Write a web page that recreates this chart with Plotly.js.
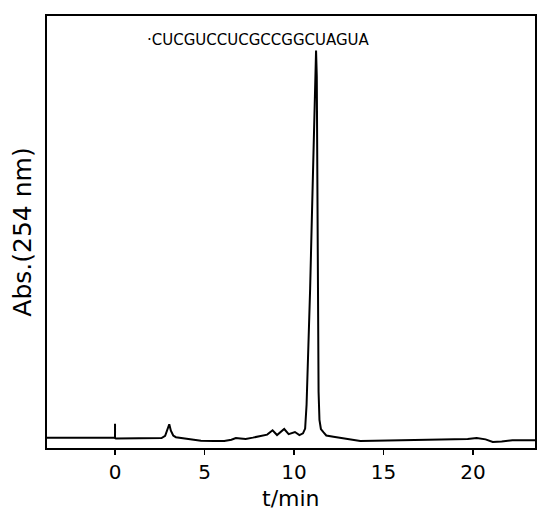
<!DOCTYPE html>
<html>
<head>
<meta charset="utf-8">
<script src="https://cdn.plot.ly/plotly-3.0.1.min.js"></script>
<style>html,body{margin:0;padding:0;background:#fff;}#chart{width:537px;height:512px;}</style>
</head>
<body>
<div id="chart"></div>
<script>
// Retention time (min) and absorbance (arbitrary units)
var timeMin = [-3.8, -2.5, -1.0, -0.05, 0, 0, 0, 0.05, 1.0, 2.0, 2.6, 2.8, 2.95, 3.03, 3.12, 3.25, 3.4, 3.8, 4.3, 4.8, 5.5, 6.1, 6.5, 6.75, 7.0, 7.3, 7.7, 8.1, 8.5, 8.8, 9.05, 9.45, 9.7, 10.05, 10.3, 10.5, 10.62, 10.7, 10.8, 10.9, 11.0, 11.1, 11.2, 11.23, 11.27, 11.3, 11.33, 11.37, 11.42, 11.5, 11.65, 11.8, 12.2, 12.6, 13.2, 13.7, 14.5, 15.5, 16.5, 17.5, 18.2, 19.0, 19.7, 20.2, 20.7, 21.1, 21.6, 22.2, 22.8, 23.5];
var absorb  = [2.4, 2.4, 2.4, 2.4, 2.4, 5.6, 2.3, 2.2, 2.2, 2.2, 2.3, 2.8, 4.3, 5.5, 4.0, 2.9, 2.5, 2.3, 2.0, 1.7, 1.6, 1.6, 1.9, 2.3, 2.2, 2.1, 2.4, 2.75, 3.1, 4.1, 3.0, 4.4, 3.2, 3.7, 3.0, 3.4, 4.5, 10, 22, 37, 54, 71, 88, 92, 86, 62, 32, 13, 6.5, 4.4, 3.6, 2.9, 2.6, 2.3, 1.9, 1.6, 1.7, 1.8, 1.8, 1.9, 2.0, 2.0, 2.1, 2.3, 2.0, 1.4, 1.5, 1.8, 1.8, 1.8];
var xTicks = [0, 5, 10, 15, 20];
var sequenceLabel = "·CUCGUCCUCGCCGGCUAGUA";
var xTitle = "t/min";
var yTitle = "Abs.(254 nm)";

var trace = {
  x: timeMin, y: absorb, type: 'scatter', mode: 'lines',
  line: {color: '#000', width: 2, shape: 'linear'},
  hoverinfo: 'skip', showlegend: false
};

var layout = {
  width: 537, height: 512,
  margin: {l: 47, r: 2, t: 16, b: 64},
  paper_bgcolor: '#fff', plot_bgcolor: '#fff',
  font: {family: 'DejaVu Sans, sans-serif', color: '#000'},
  xaxis: {
    range: [-3.8, 23.46], tickvals: xTicks, ticktext: xTicks.map(String),
    ticks: 'outside', ticklen: 5, tickwidth: 1.5, tickcolor: '#000',
    showline: true, linecolor: '#000', linewidth: 2, mirror: true,
    showgrid: false, zeroline: false,
    tickfont: {size: 20, color: '#000'}
  },
  yaxis: {
    range: [0, 100], showticklabels: false, ticks: '',
    showline: true, linecolor: '#000', linewidth: 2, mirror: true,
    showgrid: false, zeroline: false,
    title: {text: yTitle, font: {size: 25, color: '#000'}, standoff: 6}
  },
  annotations: [{
    text: sequenceLabel, xref: 'x', yref: 'y', x: 8.0, y: 94.5,
    showarrow: false, font: {size: 15, color: '#000'}, xanchor: 'center', yanchor: 'middle'
  }, {
    text: xTitle, xref: 'paper', yref: 'paper', x: 0.5, y: -0.147,
    showarrow: false, font: {size: 22, color: '#000'}, xanchor: 'center', yanchor: 'bottom',
    borderpad: 0
  }]
};

Plotly.newPlot('chart', [trace], layout, {displayModeBar: false, staticPlot: true});
</script>
</body>
</html>
